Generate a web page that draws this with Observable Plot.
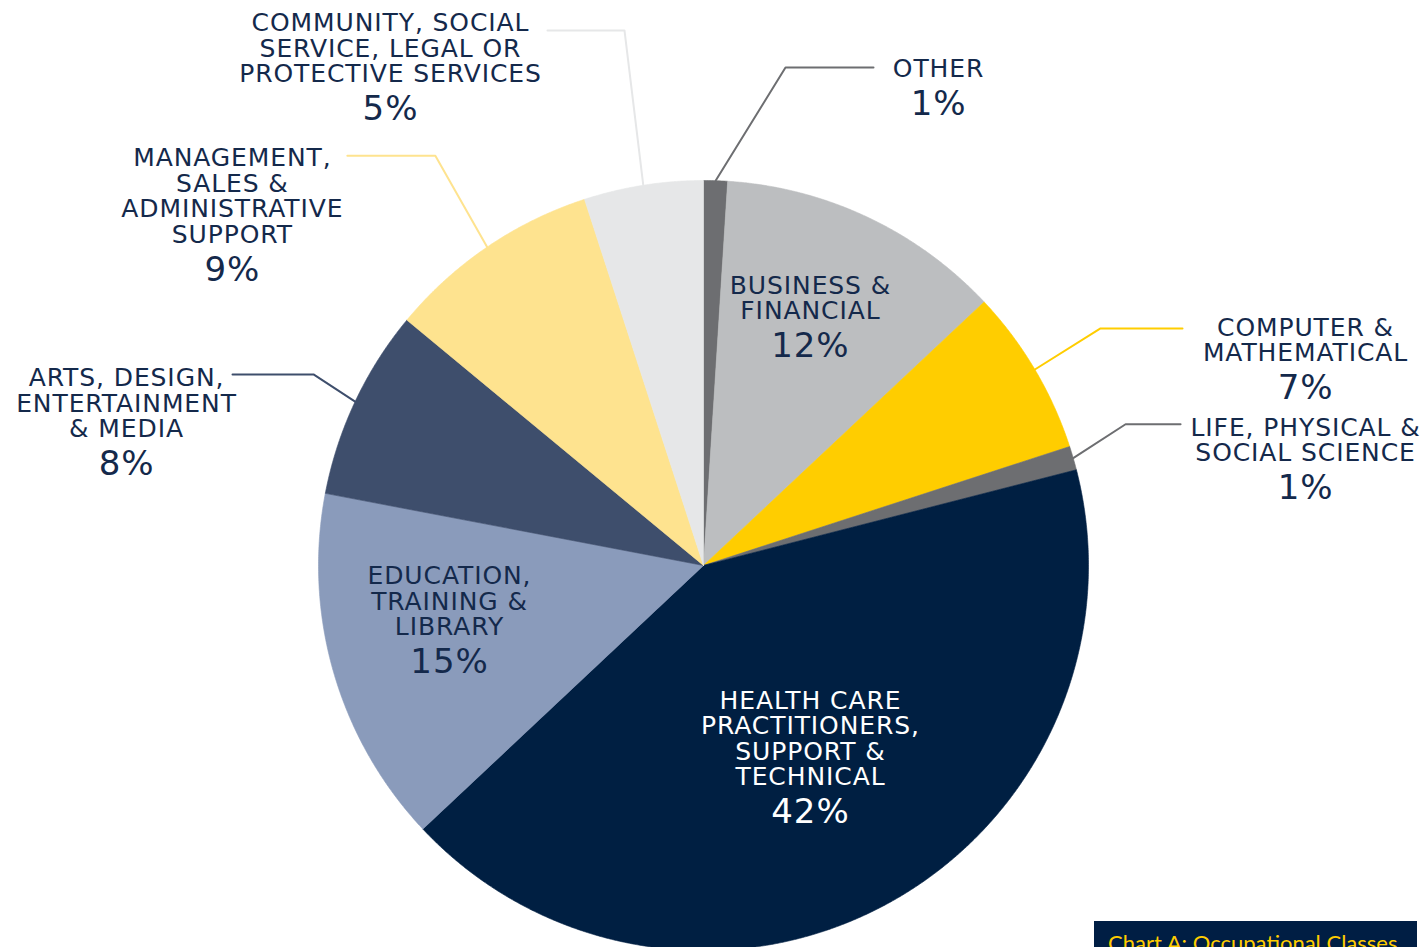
<!DOCTYPE html>
<html><head><meta charset="utf-8">
<script src="https://cdn.jsdelivr.net/npm/d3@7"></script>
<script src="https://cdn.jsdelivr.net/npm/@observablehq/plot@0.6"></script>
<style>
html,body{margin:0;padding:0;background:#fff;overflow:hidden;}
#wrap{position:relative;width:1424px;height:947px;overflow:hidden;}
#chart svg text{letter-spacing:0.9px;}
#caption{position:absolute;left:1094px;top:921px;width:323px;height:40px;background:#001e44;color:#ffcd00;font:22px Lato, sans-serif;line-height:26px;padding:9px 0 0 14px;box-sizing:border-box;white-space:nowrap;}
</style></head><body>
<div id="wrap"><div id="chart"></div><div id="caption">Chart A: Occupational Classes</div></div>
<script>
// ---- data ----
const categories = [
  "Other",
  "Business & Financial",
  "Computer & Mathematical",
  "Life, Physical & Social Science",
  "Health Care Practitioners, Support & Technical",
  "Education, Training & Library",
  "Arts, Design, Entertainment & Media",
  "Management, Sales & Administrative Support",
  "Community, Social Service, Legal or Protective Services"
];
const shares = [1, 12, 7, 1, 42, 15, 8, 9, 5];
const labelLines = [
  ["OTHER"],
  ["BUSINESS &", "FINANCIAL"],
  ["COMPUTER &", "MATHEMATICAL"],
  ["LIFE, PHYSICAL &", "SOCIAL SCIENCE"],
  ["HEALTH CARE", "PRACTITIONERS,", "SUPPORT &", "TECHNICAL"],
  ["EDUCATION,", "TRAINING &", "LIBRARY"],
  ["ARTS, DESIGN,", "ENTERTAINMENT", "& MEDIA"],
  ["MANAGEMENT,", "SALES &", "ADMINISTRATIVE", "SUPPORT"],
  ["COMMUNITY, SOCIAL", "SERVICE, LEGAL OR", "PROTECTIVE SERVICES"]
];
const pctLabels = ["1%", "12%", "7%", "1%", "42%", "15%", "8%", "9%", "5%"];

// ---- styles / layout ----
const palette = ["#6d6e71", "#bcbec0", "#ffcd00", "#6d6e71", "#001f42", "#8a9bbb", "#3e4e6c", "#fee38f", "#e6e7e8"];
const textNavy = "#14294b";
const R_PX = 385; // pixels per unit radius
const layout = {
  "Other": {type: "out", da: 7.55, r: 1.311, len: 88, gap: 65, dy: 10},
  "Business & Financial": {type: "in", r: 0.65, dx: 0.4, dy: -19.6},
  "Computer & Mathematical": {type: "out", da: -0.24, r: 1.201, len: 82, gap: 123, dy: 33},
  "Life, Physical & Social Science": {type: "out", da: -2.3, r: 1.156, len: 55, gap: 125, dy: 37},
  "Health Care Practitioners, Support & Technical": {type: "in", r: 0.65, dx: -13.6, dy: 0.7, light: true},
  "Education, Training & Library": {type: "in", r: 0.65, dx: -13.7, dy: 0},
  "Arts, Design, Entertainment & Media": {type: "out", da: 0.9, r: 1.128, len: 81, gap: 106, dy: 63},
  "Management, Sales & Administrative Support": {type: "out", da: 1.0, r: 1.272, len: 88, gap: 115, dy: 87},
  "Community, Social Service, Legal or Protective Services": {type: "out", da: 0.6, r: 1.405, len: 77, gap: 157, dy: 52}
};

// ---- geometry from data ----
const rows = categories.map((c, i) => ({category: c, share: shares[i], lines: labelLines[i], pct: pctLabels[i]}));
const arcs = d3.pie().sort(null).value(d => d.share).startAngle(0).endAngle(2 * Math.PI)(rows);
const polar = (a, r) => [r * Math.sin(a), r * Math.cos(a)];

const slicePts = [];
const leaderPts = [];
const labels = [];
arcs.forEach(a => {
  const c = a.data.category;
  slicePts.push({category: c, x: 0, y: 0});
  const n = Math.max(2, Math.ceil((a.endAngle - a.startAngle) / (Math.PI / 720)));
  for (let k = 0; k <= n; k++) {
    const t = a.startAngle + (a.endAngle - a.startAngle) * k / n;
    const [x, y] = polar(t, 1);
    slicePts.push({category: c, x, y});
  }
  slicePts.push({category: c, x: 0, y: 0});

  const mid = (a.startAngle + a.endAngle) / 2;
  const L = layout[c];
  let ax, ay;
  if (L.type === "out") {
    const [x0, y0] = polar(mid, 1);
    const [x1, y1] = polar(mid + L.da * Math.PI / 180, L.r);
    const side = x1 >= 0 ? 1 : -1;
    const x2 = x1 + side * L.len / R_PX;
    leaderPts.push({category: c, x: x0, y: y0}, {category: c, x: x1, y: y1}, {category: c, x: x2, y: y1});
    ax = x2 + side * L.gap / R_PX;
    ay = y1 - L.dy / R_PX;
  } else {
    const [x0, y0] = polar(mid, L.r);
    ax = x0 + L.dx / R_PX;
    ay = y0 - L.dy / R_PX;
  }
  labels.push({category: c, x: ax, y: ay, text: a.data.lines.join("\n"), pct: a.data.pct, light: !!L.light});
});

const textOpts = {x: "x", y: "y", textAnchor: "middle", lineAnchor: "bottom"};

const chart = Plot.plot({
  width: 1424,
  height: 947,
  margin: 0,
  x: {domain: [-1, 1], range: [318, 1088], axis: null},
  y: {domain: [-1, 1], range: [950, 180], axis: null},
  color: {domain: categories, range: palette},
  style: {fontFamily: "'DejaVu Sans', sans-serif", background: "#fff"},
  marks: [
    Plot.line(slicePts, {x: "x", y: "y", z: "category", fill: "category", stroke: "category", strokeWidth: 0.6, curve: "linear"}),
    Plot.line(leaderPts, {x: "x", y: "y", z: "category", stroke: "category", strokeWidth: 2, curve: "linear"}),
    Plot.text(labels, {...textOpts, text: "text", fontSize: 25, lineHeight: 1.02, fill: textNavy, filter: d => !d.light}),
    Plot.text(labels, {...textOpts, text: "text", fontSize: 25, lineHeight: 1.02, fill: "#ffffff", filter: d => d.light}),
    Plot.text(labels, {...textOpts, text: "pct", fontSize: 34, dy: 38, fill: textNavy, filter: d => !d.light}),
    Plot.text(labels, {...textOpts, text: "pct", fontSize: 34, dy: 38, fill: "#ffffff", filter: d => d.light})
  ]
});
document.getElementById("chart").appendChild(chart);
</script>
</body></html>
